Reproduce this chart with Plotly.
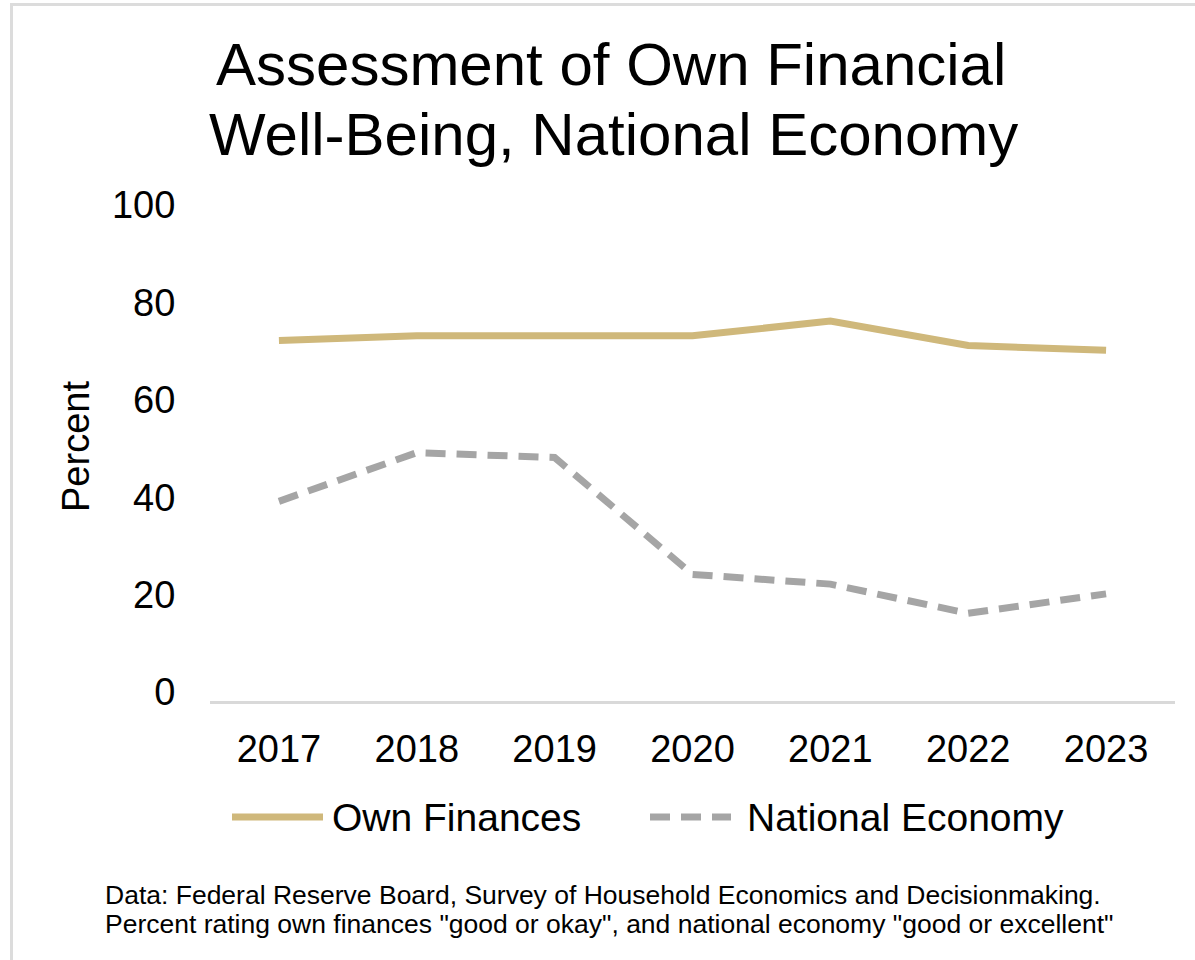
import plotly.graph_objects as go

# Survey years and shares of respondents (percent)
years = ["2017", "2018", "2019", "2020", "2021", "2022", "2023"]
own_finances = [74, 75, 75, 75, 78, 73, 72]
national_economy = [41, 51, 50, 26, 24, 18, 22]
y_ticks = [0, 20, 40, 60, 80, 100]

title_lines = ["Assessment of Own Financial", "Well-Being, National Economy"]
source_lines = [
    "Data: Federal Reserve Board, Survey of Household Economics and Decisionmaking.",
    "Percent rating own finances \"good or okay\", and national economy \"good or excellent\"",
]

GOLD = "#CFB87B"
GREY = "#A5A5A5"
FONT = "Liberation Sans, Arial, sans-serif"

W, H = 1195, 960
L, R, T, B = 210, 20, 214, 259
PW, PH = W - L - R, H - T - B


def px(x):
    return (x - L) / PW


def py(y):
    return (H - B - y) / PH


fig = go.Figure()
fig.add_trace(go.Scatter(
    x=years, y=own_finances, mode="lines", name="Own Finances",
    line=dict(color=GOLD, width=7), showlegend=False,
))
fig.add_trace(go.Scatter(
    x=years, y=national_economy, mode="lines", name="National Economy",
    line=dict(color=GREY, width=7, dash="20px,11px"), showlegend=False,
))

annotations = [
    dict(text=title_lines[0], x=px(611), y=py(65), font=dict(size=60)),
    dict(text=title_lines[1], x=px(613), y=py(134), font=dict(size=60)),
    dict(text="Percent", x=px(76), y=py(447), textangle=-90, font=dict(size=38)),
    dict(text="Own Finances", x=px(330), y=py(817), xanchor="left", font=dict(size=39)),
    dict(text="National Economy", x=px(745), y=py(817), xanchor="left", font=dict(size=39)),
    dict(text=source_lines[0], x=px(103), y=py(895), xanchor="left", font=dict(size=26.5)),
    dict(text=source_lines[1], x=px(103), y=py(924), xanchor="left", font=dict(size=26.5)),
]
for a in annotations:
    a.setdefault("xanchor", "center")
    a.update(xref="paper", yref="paper", yanchor="middle", showarrow=False)
    a["font"].update(family=FONT, color="black")

shapes = [
    # legend keys
    dict(type="line", x0=px(232), x1=px(323), y0=py(817), y1=py(817),
         line=dict(color=GOLD, width=7)),
    dict(type="line", x0=px(650), x1=px(731), y0=py(817), y1=py(817),
         line=dict(color=GREY, width=7, dash="20px,11px")),
    # frame edges
    dict(type="line", x0=px(10), x1=px(W + 5), y0=py(4.5), y1=py(4.5),
         line=dict(color="#DCDCDC", width=3)),
    dict(type="line", x0=px(11.5), x1=px(11.5), y0=py(3), y1=py(H + 5),
         line=dict(color="#DCDCDC", width=3)),
]
for s in shapes:
    s.update(xref="paper", yref="paper", layer="above")

fig.update_layout(
    width=W, height=H,
    margin=dict(l=L, r=R, t=T, b=B, pad=0),
    paper_bgcolor="white", plot_bgcolor="white",
    font=dict(family=FONT, color="black"),
    showlegend=False,
    annotations=annotations,
    shapes=shapes,
    xaxis=dict(
        type="category", range=[-0.5, 6.5],
        showgrid=False, zeroline=False,
        showline=True, linecolor="#D9D9D9", linewidth=2.5,
        ticks="outside", ticklen=13, tickcolor="rgba(0,0,0,0)",
        tickfont=dict(size=38, family=FONT, color="black"),
    ),
    yaxis=dict(
        range=[0, 100], tickvals=y_ticks,
        showgrid=False, zeroline=False, showline=False,
        ticks="outside", ticklen=26, tickcolor="rgba(0,0,0,0)",
        ticklabelshift=-9,
        tickfont=dict(size=38, family=FONT, color="black"),
    ),
)

fig.write_html("out.html")
